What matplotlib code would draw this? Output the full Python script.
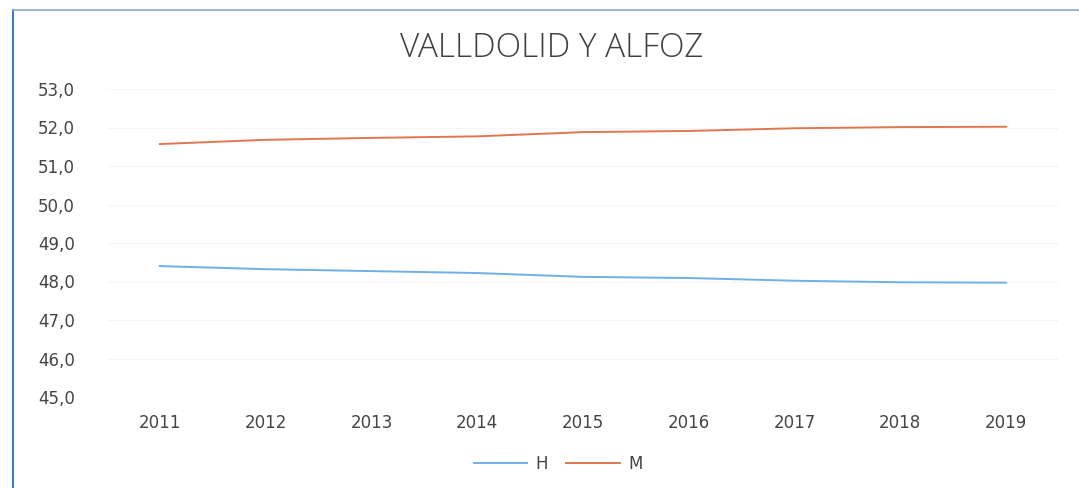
import matplotlib
matplotlib.use("Agg")
import matplotlib.pyplot as plt
from matplotlib.lines import Line2D

years = [2011, 2012, 2013, 2014, 2015, 2016, 2017, 2018, 2019]
h_values = [48.40, 48.32, 48.27, 48.22, 48.12, 48.09, 48.02, 47.98, 47.97]
m_values = [51.57, 51.68, 51.73, 51.77, 51.88, 51.91, 51.98, 52.01, 52.02]
y_ticks = [45, 46, 47, 48, 49, 50, 51, 52, 53]
title = "VALLDOLID Y ALFOZ"

W, H = 1079, 488
fig = plt.figure(figsize=(W / 100, H / 100), dpi=100)
fig.patch.set_facecolor("white")

# plot area
x_left, x_right = 107, 1059
y_top, y_bot = 89, 397
ax = fig.add_axes([x_left / W, 1 - y_bot / H, (x_right - x_left) / W, (y_bot - y_top) / H])
pos = list(range(len(years)))
ax.plot(pos, h_values, color="#6db1e6", lw=1.4, label="H")
ax.plot(pos, m_values, color="#e0764e", lw=1.4, label="M")
ax.set_xlim(-0.5, len(years) - 0.5)
ax.set_ylim(45, 53)
ax.set_yticks(y_ticks)
ax.set_yticklabels([f"{v:.1f}".replace(".", ",") for v in y_ticks])
ax.set_xticks(pos)
ax.set_xticklabels([str(y) for y in years])
for s in ax.spines.values():
    s.set_visible(False)
ax.tick_params(length=0, colors="#404040", labelsize=12)
ax.tick_params(axis="y", pad=23)
ax.tick_params(axis="x", pad=12)
for lbl in ax.get_xticklabels() + ax.get_yticklabels():
    lbl.set_family("DejaVu Sans")
    lbl.set_color("#444444")
ax.grid(axis="y", color="#f6f6f6", lw=0.8)
ax.set_axisbelow(True)

fig.text(552 / W, 1 - 48 / H, title, ha="center", va="center",
         fontsize=24, color="#404040", family="Open Sans", fontweight="light")

handles = [Line2D([], [], color="#6db1e6", lw=1.4), Line2D([], [], color="#e0764e", lw=1.4)]
fig.legend(handles, ["H", "M"], loc="center", bbox_to_anchor=(558 / W, 1 - 464 / H),
           ncol=2, frameon=False, handlelength=3.2, handletextpad=0.5, columnspacing=1.1,
           prop={"family": "DejaVu Sans", "size": 12}, labelcolor="#444444")

# chart border (left and top)
fig.add_artist(Line2D([13 / W, 13 / W], [0, 1 - 10 / H], color="#3f7ac7", lw=1.5, transform=fig.transFigure))
fig.add_artist(Line2D([13 / W, 1], [1 - 10 / H, 1 - 10 / H], color="#8fa9c4", lw=1.2, transform=fig.transFigure))

fig.savefig("out.png", dpi=100)
